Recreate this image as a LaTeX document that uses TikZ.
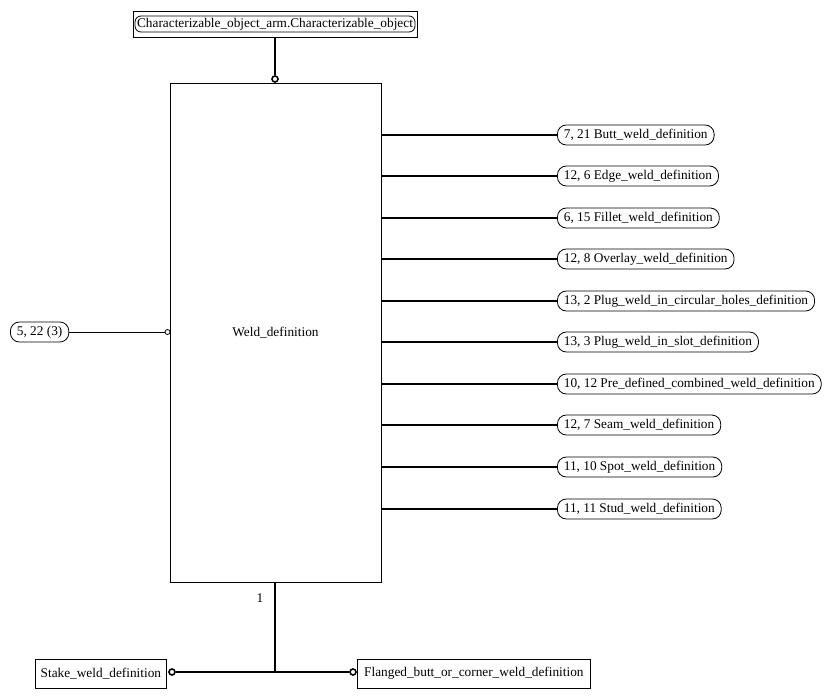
\documentclass[tikz,border=0pt]{standalone}
\usepackage{fontspec}
\setmainfont{Liberation Serif}
\begin{document}
\begin{tikzpicture}[x=1pt,y=-1pt,
  txt/.style={font=\fontsize{13.3}{15}\selectfont, text=black},
  lbl/.style={txt, draw, rounded corners=9pt, minimum height=20pt, inner xsep=6.5pt, inner ysep=0pt, anchor=west, line width=0.8pt},
  boxn/.style={txt, draw, minimum height=29pt, inner xsep=5pt, line width=0.8pt},
  thk/.style={line width=2.6pt},
  thn/.style={line width=0.8pt},
  ring/.style={circle, draw, fill=white, inner sep=0pt, minimum size=6pt, line width=1.6pt},
  sring/.style={circle, draw, fill=white, inner sep=0pt, minimum size=5pt, line width=0.8pt}]
\useasboundingbox (0,0) rectangle (830,698);
% top node
\draw[thn] (133,11) rectangle (417,37);
\node[txt, draw, rounded corners=6pt, minimum width=280pt, minimum height=16pt, inner sep=0pt, line width=0.8pt] (top) at (275,24) {Characterizable\_object\_arm.Characterizable\_object};
\coordinate (topb) at (275,37);
% main
\node[txt, draw, minimum width=211pt, minimum height=499pt, line width=0.8pt] (main) at (275.5,332.5) {Weld\_definition};
\node[ring] (ctop) at (275,79) {};
\draw[thk] (topb) -- (ctop.north);
% left
\node[lbl] (left) at (10,332) {5, 22 (3)};
\node[sring] (cleft) at (167.5,332) {};
\draw[thn] (left.east) -- (cleft.west);
% right
\foreach \y/\t [count=\i] in {135/{7, 21 Butt\_weld\_definition},176/{12, 6 Edge\_weld\_definition},218/{6, 15 Fillet\_weld\_definition},259/{12, 8 Overlay\_weld\_definition},301/{13, 2 Plug\_weld\_in\_circular\_holes\_definition},342/{13, 3 Plug\_weld\_in\_slot\_definition},384/{10, 12 Pre\_defined\_combined\_weld\_definition},425/{12, 7 Seam\_weld\_definition},467/{11, 10 Spot\_weld\_definition},509/{11, 11 Stud\_weld\_definition}}{
  \node[lbl] (r\i) at (557,\y) {\t};
  \draw[thk] (main.east |- r\i.west) -- (r\i.west);
}
% bottom
\node[txt] (one) at (260,598) {1};
\node[boxn, anchor=west, minimum width=131pt] (stake) at (35,673.5) {Stake\_weld\_definition};
\node[boxn, anchor=west, minimum width=233pt] (flanged) at (357,673.5) {Flanged\_butt\_or\_corner\_weld\_definition};
\coordinate (j) at (275,672);
\node[ring] (cl) at (172,672) {};
\node[ring] (cr) at (353,672) {};
\draw[thk] (main.south -| j) -- (j);
\draw[thk] (cl.east) -- (cr.west);
\end{tikzpicture}
\end{document}
